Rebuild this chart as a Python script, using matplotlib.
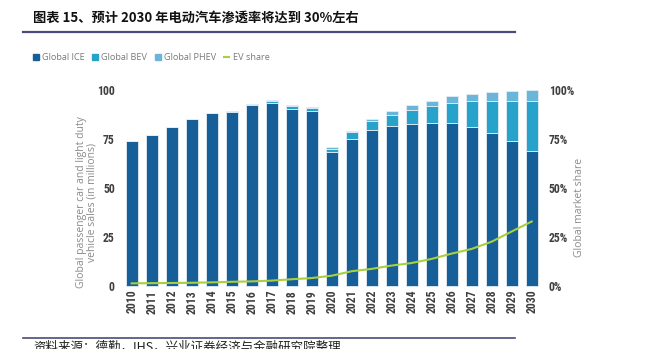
import matplotlib.pyplot as plt
from matplotlib.patches import Patch
from matplotlib.lines import Line2D
import numpy as np

# 数据（从图中读取，单位：百万辆 / %）
years = [str(y) for y in range(2010, 2031)]
ice = [74.1, 77.2, 81.1, 85.0, 88.2, 88.9, 92.2, 93.5, 90.3, 89.1, 68.2,
       75.0, 79.4, 81.6, 82.8, 83.1, 83.0, 81.3, 78.2, 73.8, 69.0]
bev = [0.0, 0.0, 0.1, 0.1, 0.1, 0.3, 0.4, 0.8, 1.4, 1.5, 1.9,
       3.3, 4.8, 5.8, 7.1, 8.9, 10.5, 13.2, 16.3, 20.7, 25.5]
phev = [0.0, 0.0, 0.1, 0.1, 0.1, 0.2, 0.2, 0.4, 0.6, 0.5, 0.6,
        0.9, 0.8, 1.7, 2.3, 2.4, 3.3, 3.6, 4.3, 5.2, 5.7]
ev_share = [1.2, 1.3, 1.4, 1.5, 1.7, 2.0, 2.2, 2.6, 3.3, 3.9, 5.1,
            7.4, 8.6, 10.3, 11.6, 13.7, 16.4, 18.8, 22.5, 27.7, 32.8]

c_ice, c_bev, c_phev, c_line = '#175f98', '#27a3cb', '#6ab6da', '#a8cf3c'
tick_col = '#3f3f3f'
lab_col = '#8a8a8a'
tick_font = ['Liberation Sans Narrow', 'Roboto Condensed', 'Roboto']

W, H = 651, 349
fig = plt.figure(figsize=(W / 100, H / 100), dpi=100)

# 坐标轴位置（像素换算）
left, right, top, bottom = 121.7, 541.7, 90, 285.7
ax = fig.add_axes([left / W, 1 - bottom / H, (right - left) / W, (bottom - top) / H])

x = np.arange(len(years))
ice_a, bev_a = np.array(ice), np.array(bev)
kw = dict(width=0.6, edgecolor='#e3edf5', linewidth=0.6, clip_on=False)
ax.bar(x, ice, color=c_ice, **kw)
ax.bar(x, bev, bottom=ice_a, color=c_bev, **kw)
ax.bar(x, phev, bottom=ice_a + bev_a, color=c_phev, **kw)

ax.set_xlim(-0.5, len(years) - 0.5)
ax.set_ylim(0, 100)
ax.set_yticks([0, 25, 50, 75, 100])
ax.set_xticks(x)
ax.set_xticklabels(years, rotation=90)
for s in ax.spines.values():
    s.set_visible(False)
ax.tick_params(length=0, colors=tick_col)
ax.tick_params(axis='y', pad=5)
ax.tick_params(axis='x', pad=3)
for t in ax.get_xticklabels() + ax.get_yticklabels():
    t.set_family(tick_font)
    t.set_fontweight('bold')
    t.set_fontsize(8.5)

ax2 = ax.twinx()
ax2.plot(x, ev_share, color=c_line, linewidth=1.5)
ax2.set_ylim(0, 100)
ax2.set_yticks([0, 25, 50, 75, 100])
ax2.set_yticklabels(['0%', '25%', '50%', '75%', '100%'])
for s in ax2.spines.values():
    s.set_visible(False)
ax2.tick_params(length=0, colors=tick_col, pad=5)
for t in ax2.get_yticklabels():
    t.set_family(tick_font)
    t.set_fontweight('bold')
    t.set_fontsize(8.5)

# 轴标题
fig.text(87 / W, 1 - 202 / H, 'Global passenger car and light duty\nvehicle sales (in millions)',
         rotation=90, ha='center', va='center', fontsize=7.5, color=lab_col,
         family='Open Sans', linespacing=1.0)
fig.text(579 / W, 1 - 207 / H, 'Global market share', rotation=90, ha='center',
         va='center', fontsize=7.5, color=lab_col, family='Open Sans')

# 图例
handles = [Patch(color=c_ice), Patch(color=c_bev), Patch(color=c_phev),
           Line2D([0], [0], color=c_line, linewidth=1.5)]
labels = ['Global ICE', 'Global BEV', 'Global PHEV', 'EV share']
leg = fig.legend(handles, labels, loc='center left', bbox_to_anchor=(33 / W, 1 - 58 / H),
                 ncol=4, frameon=False, handlelength=0.65, handleheight=0.65,
                 handletextpad=0.35, columnspacing=0.8, borderpad=0, borderaxespad=0,
                 prop={'family': 'Open Sans', 'size': 6.6})
for t in leg.get_texts():
    t.set_color('#7a7a7a')

# 标题、分隔线与来源
fig.text(33 / W, 1 - 18 / H, '图表 15、预计 2030 年电动汽车渗透率将达到 30%左右',
         ha='left', va='center', fontsize=9.5, fontweight='bold',
         family=['Noto Sans CJK SC', 'DejaVu Sans'], color='#111111')
line_col = '#4a4a7c'
fig.add_artist(Line2D([23 / W, 515 / W], [1 - 31.5 / H] * 2, color=line_col, linewidth=1.6))
fig.add_artist(Line2D([23 / W, 515 / W], [1 - 337.5 / H] * 2, color=line_col, linewidth=1.2))
fig.text(33 / W, 1 - 341 / H, '资料来源：德勤，IHS，兴业证券经济与金融研究院整理',
         ha='left', va='top', fontsize=9, family=['Noto Sans CJK SC', 'DejaVu Sans'],
         color='#222222')

fig.savefig('out.png', dpi=100)
